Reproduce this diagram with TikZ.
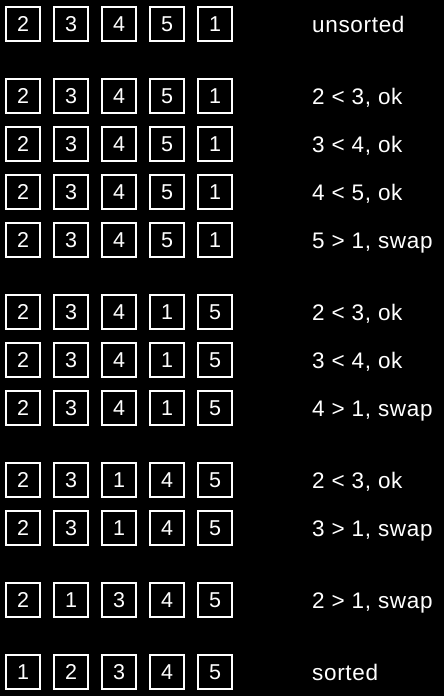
\documentclass[tikz,border=0pt]{standalone}
\usepackage{fontspec}
\setmainfont{Liberation Sans}
\begin{document}
\begin{tikzpicture}[x=1pt, y=-1pt,
    cell/.style={draw=white, line width=1.6pt, minimum size=34.4pt, inner sep=0pt, text=white, font=\fontsize{21.5}{24}\selectfont},
    note/.style={anchor=base west, inner sep=0pt, text=white, font=\fontsize{22.5}{26}\selectfont\addfontfeature{LetterSpace=3}}]
    \fill[black] (0, 0) rectangle (444, 696);
    \useasboundingbox (0, 0) rectangle (444, 696);

    \foreach \y/\seq/\txt [count=\r] in {
        24/{2,3,4,5,1}/{unsorted},
        96/{2,3,4,5,1}/{2 < 3, ok},
        144/{2,3,4,5,1}/{3 < 4, ok},
        192/{2,3,4,5,1}/{4 < 5, ok},
        240/{2,3,4,5,1}/{5 > 1, swap},
        312/{2,3,4,1,5}/{2 < 3, ok},
        360/{2,3,4,1,5}/{3 < 4, ok},
        408/{2,3,4,1,5}/{4 > 1, swap},
        480/{2,3,1,4,5}/{2 < 3, ok},
        528/{2,3,1,4,5}/{3 > 1, swap},
        600/{2,1,3,4,5}/{2 > 1, swap},
        672/{1,2,3,4,5}/{sorted}} {
        \foreach \d [count=\c] in \seq {
            \node[cell] (r\r c\c) at ({23 + 48*(\c-1)}, \y) {\d};
        }
        \node[note] (t\r) at (312, \y + 8) {\txt};
    }
\end{tikzpicture}
\end{document}
